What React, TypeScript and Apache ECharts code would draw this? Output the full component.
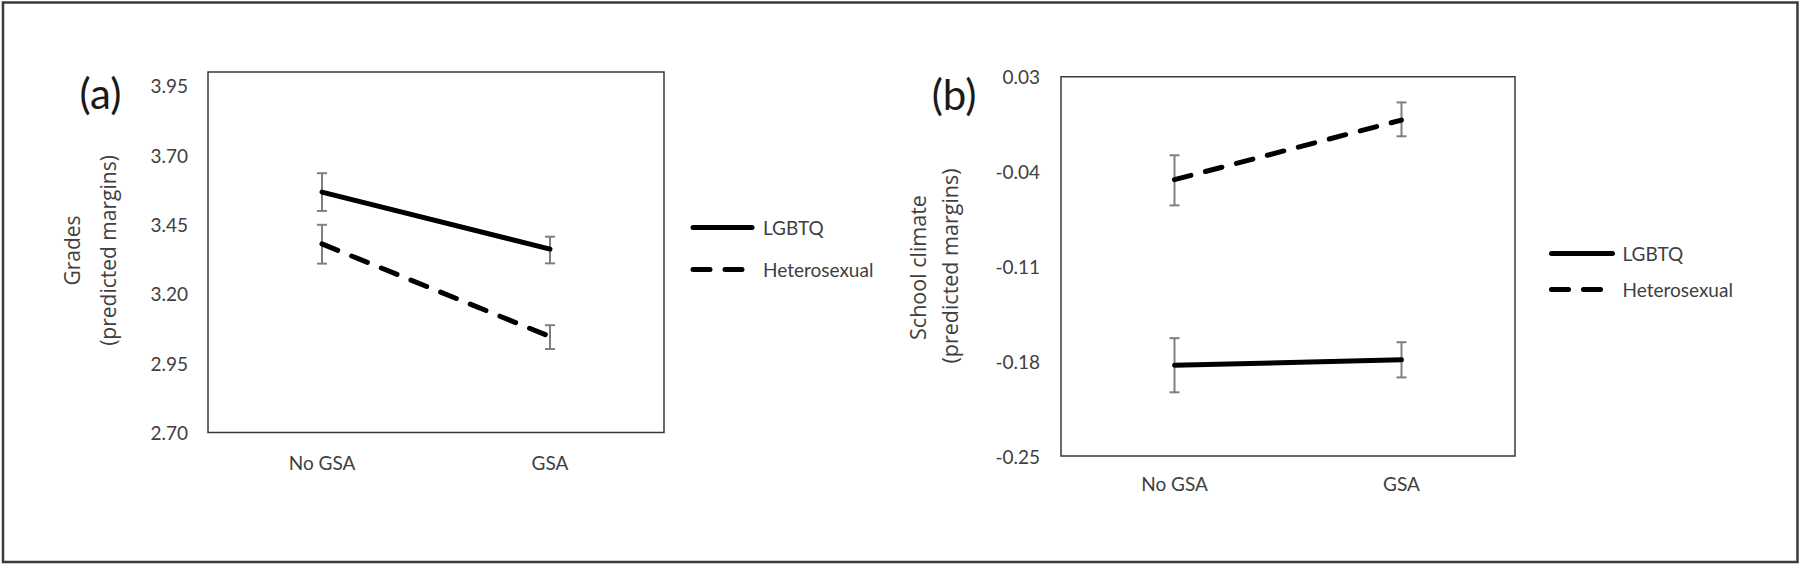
import React, { useEffect, useRef } from "react";
import * as echarts from "echarts";

// ---- data ----
const categories = ["No GSA", "GSA"];
const seriesNames = ["LGBTQ", "Heterosexual"];

// Panel (a): Grades (predicted margins)
const gradesLGBTQ = [3.567, 3.361];
const gradesLGBTQLow = [3.499, 3.31];
const gradesLGBTQHigh = [3.635, 3.406];
const gradesHetero = [3.38, 3.046];
const gradesHeteroLow = [3.309, 3.001];
const gradesHeteroHigh = [3.449, 3.087];
const gradesTicks = ["2.70", "2.95", "3.20", "3.45", "3.70", "3.95"];
const gradesTitle = ["Grades", "(predicted margins)"];

// Panel (b): School climate (predicted margins)
const climateLGBTQ = [-0.183, -0.179];
const climateLGBTQLow = [-0.203, -0.192];
const climateLGBTQHigh = [-0.163, -0.166];
const climateHetero = [-0.046, -0.002];
const climateHeteroLow = [-0.065, -0.014];
const climateHeteroHigh = [-0.028, 0.011];
const climateTicks = ["-0.25", "-0.18", "-0.11", "-0.04", "0.03"];
const climateTitle = ["School climate", "(predicted margins)"];

const TEXT = "#404040";
const TICK_FONT = "Lato";
const NAME_FONT = "Open Sans";

function tickFormatter(ticks: string[]) {
  return (v: number) => {
    for (const t of ticks) {
      if (Math.abs(parseFloat(t) - v) < 1e-6) return t;
    }
    return "";
  };
}

function errorSeries(name: string, low: number[], high: number[], idx: number) {
  return {
    type: "custom",
    name,
    xAxisIndex: idx,
    yAxisIndex: idx,
    z: 1,
    silent: true,
    data: categories.map((_, i) => [i, low[i], high[i]]),
    encode: { x: 0, y: [1, 2] },
    renderItem: (_params: any, api: any) => {
      const x = api.value(0);
      const lo = api.coord([x, api.value(1)]);
      const hi = api.coord([x, api.value(2)]);
      const hw = 5;
      const style = { stroke: "#7f7f7f", lineWidth: 2 };
      return {
        type: "group",
        children: [
          { type: "line", shape: { x1: lo[0], y1: lo[1], x2: hi[0], y2: hi[1] }, style },
          { type: "line", shape: { x1: lo[0] - hw, y1: lo[1], x2: lo[0] + hw, y2: lo[1] }, style },
          { type: "line", shape: { x1: hi[0] - hw, y1: hi[1], x2: hi[0] + hw, y2: hi[1] }, style },
        ],
      };
    },
  };
}

function lineSeries(name: string, data: number[], idx: number, dashed: boolean) {
  return {
    type: "line",
    name,
    xAxisIndex: idx,
    yAxisIndex: idx,
    data,
    symbol: "none",
    z: 3,
    lineStyle: {
      color: "#000",
      width: 5,
      cap: "round",
      type: dashed ? [17, 15] : "solid",
    },
    itemStyle: { color: "#000" },
  };
}

function vText(text: string, x: number, y: number, size: number) {
  return {
    type: "text",
    x,
    y,
    rotation: Math.PI / 2,
    silent: true,
    style: {
      text,
      font: `${size}px "${NAME_FONT}"`,
      fill: TEXT,
      align: "center",
      verticalAlign: "middle",
    },
  };
}

const legendCommon = {
  data: seriesNames,
  orient: "vertical",
  itemHeight: 20,
  selectedMode: false,
  itemStyle: { color: "rgba(0,0,0,0)", borderWidth: 0, opacity: 0 },
  lineStyle: { width: 5, cap: "round" },
};

export default function App() {
  const ref = useRef<HTMLDivElement>(null);

  useEffect(() => {
    if (!ref.current) return;
    const chart = echarts.init(ref.current, null, { renderer: "svg" });

    const xAxisCommon = {
      type: "category",
      data: categories,
      boundaryGap: true,
      axisLine: { show: false },
      axisTick: { show: false },
      splitLine: { show: false },
      axisLabel: { color: TEXT, fontFamily: TICK_FONT, fontSize: 19 },
    };

    chart.setOption({
      animation: false,
      backgroundColor: "#fff",
      grid: [
        { left: 208, top: 72, width: 456, height: 360.5, show: true, borderColor: "#3a3a3a", borderWidth: 1.5 },
        { left: 1061, top: 76.7, width: 454, height: 379.3, show: true, borderColor: "#3a3a3a", borderWidth: 1.5 },
      ],
      xAxis: [
        { ...xAxisCommon, gridIndex: 0, axisLabel: { ...xAxisCommon.axisLabel, margin: 20 } },
        { ...xAxisCommon, gridIndex: 1, axisLabel: { ...xAxisCommon.axisLabel, margin: 18 } },
      ],
      yAxis: [
        {
          type: "value",
          gridIndex: 0,
          min: 2.7,
          max: 4.0,
          interval: 0.05,
          axisLine: { show: false },
          axisTick: { show: false },
          splitLine: { show: false },
          axisLabel: { color: TEXT, fontFamily: TICK_FONT, fontSize: 19, margin: 20, formatter: tickFormatter(gradesTicks) },
        },
        {
          type: "value",
          gridIndex: 1,
          min: -0.25,
          max: 0.03,
          interval: 0.01,
          axisLine: { show: false },
          axisTick: { show: false },
          splitLine: { show: false },
          axisLabel: { color: TEXT, fontFamily: TICK_FONT, fontSize: 19, margin: 21, formatter: tickFormatter(climateTicks) },
        },
      ],
      legend: [
        {
          ...legendCommon,
          left: 685.5,
          top: 213,
          itemWidth: 59,
          itemGap: 23,
          textStyle: { color: TEXT, fontFamily: TICK_FONT, fontSize: 19, padding: [0, 0, 0, 6] },
        },
        {
          ...legendCommon,
          left: 1544,
          top: 239,
          itemWidth: 61,
          itemGap: 17,
          textStyle: { color: TEXT, fontFamily: TICK_FONT, fontSize: 19, padding: [0, 0, 0, 5] },
        },
      ],
      graphic: [
        {
          type: "rect",
          shape: { x: 3, y: 2.5, width: 1794.5, height: 559.5 },
          style: { fill: "none", stroke: "#3a3a3a", lineWidth: 2.5 },
          silent: true,
        },
        {
          type: "text",
          x: 100.5,
          y: 92.5,
          style: { text: "(a)", font: "42px Lato", fill: "#1a1a1a", align: "center", verticalAlign: "middle" },
        },
        {
          type: "text",
          x: 954,
          y: 93.5,
          style: { text: "(b)", font: "42px Lato", fill: "#1a1a1a", align: "center", verticalAlign: "middle" },
        },
        vText(gradesTitle[0], 72, 250.5, 21),
        vText(gradesTitle[1], 108, 250.5, 21),
        vText(climateTitle[0], 917, 267.5, 21.5),
        vText(climateTitle[1], 949, 266, 21.5),
      ],
      series: [
        errorSeries("LGBTQ CI a", gradesLGBTQLow, gradesLGBTQHigh, 0),
        errorSeries("Heterosexual CI a", gradesHeteroLow, gradesHeteroHigh, 0),
        lineSeries("LGBTQ", gradesLGBTQ, 0, false),
        lineSeries("Heterosexual", gradesHetero, 0, true),
        errorSeries("LGBTQ CI b", climateLGBTQLow, climateLGBTQHigh, 1),
        errorSeries("Heterosexual CI b", climateHeteroLow, climateHeteroHigh, 1),
        lineSeries("LGBTQ", climateLGBTQ, 1, false),
        lineSeries("Heterosexual", climateHetero, 1, true),
      ],
    });

    return () => chart.dispose();
  }, []);

  return (
    <div
      ref={ref}
      style={{ position: "fixed", left: 0, top: 0, width: 1800, height: 565, background: "#fff" }}
    />
  );
}
